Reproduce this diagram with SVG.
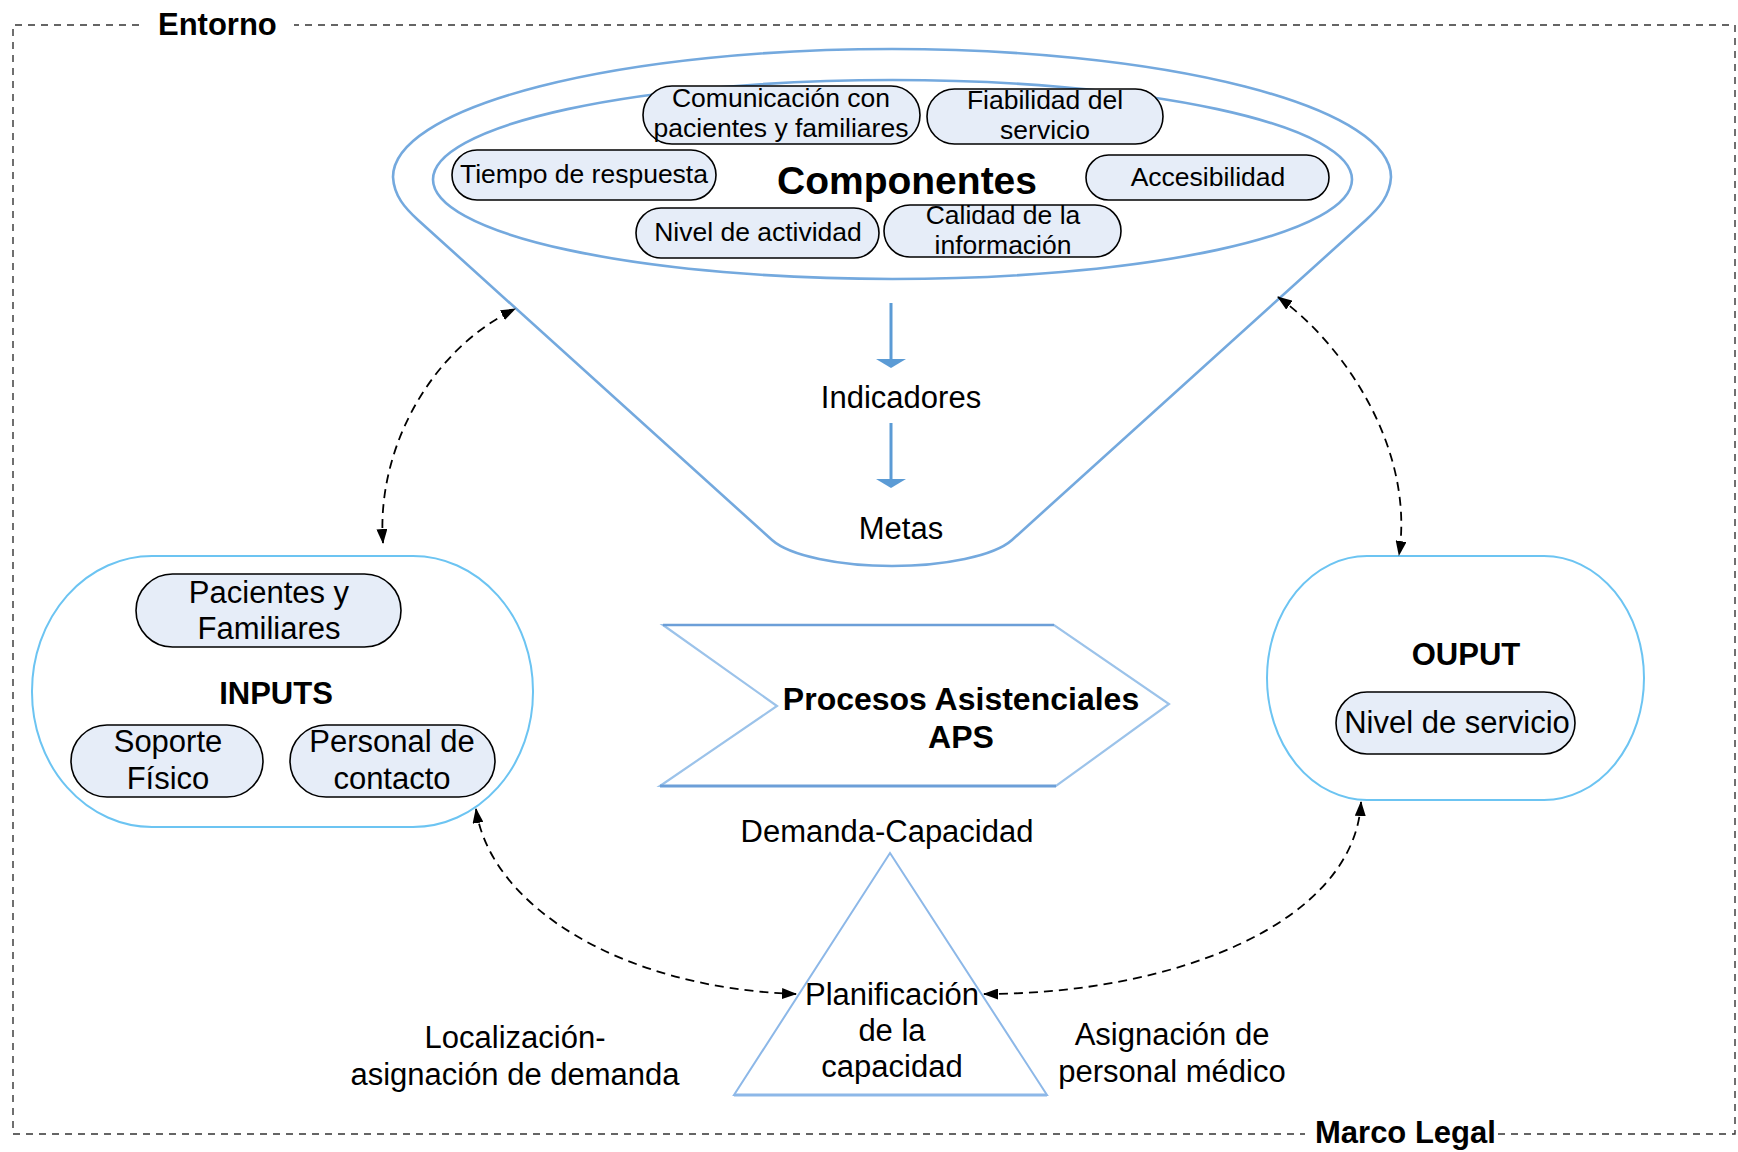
<svg xmlns="http://www.w3.org/2000/svg" width="1738" height="1152" viewBox="0 0 1738 1152">
<defs>
<style>
text{font-family:"Liberation Sans",Arial,sans-serif;fill:#000}
.t26{font-size:26.5px}
.t30{font-size:31px}
.b30{font-size:31px;font-weight:bold}
.mid{text-anchor:middle}
.pill{fill:#E6EDF8;stroke:#000;stroke-width:1.6}
.frame{fill:none;stroke:#333;stroke-width:1.4;stroke-dasharray:7 6}
.funnel{fill:#fff;stroke:#74A9DE;stroke-width:2.6}
.group{fill:#fff;stroke:#6CC4F2;stroke-width:2}
.conn{fill:none;stroke:#000;stroke-width:1.8;stroke-dasharray:9 6}
.blue{stroke:#5B9BD5;stroke-width:3;fill:none}
</style>
<marker id="ah" viewBox="0 0 15 11" markerWidth="15" markerHeight="11" refX="14" refY="5.5" orient="auto-start-reverse" markerUnits="userSpaceOnUse">
<path d="M0,0 L15,5.5 L0,11 Z" fill="#000"/>
</marker>
</defs>
<rect width="1738" height="1152" fill="#fff"/>

<g id="entorno">
<path class="frame" d="M139,25 L13,25 L13,1134 L1305,1134 M1498,1134 L1735,1134 L1735,25 L294,25"/>
<text class="b30" x="158" y="35">Entorno</text>
<text class="b30" x="1315" y="1143">Marco Legal</text>
</g>

<g id="funnel">
<path class="funnel" d="M393,177 A499 128 0 0 1 1391,177 C1390,196 1379,208 1366,220 L1012,540 C994,556 944,566 892,566 C840,566 790,556 772,540 L418,220 C405,208 394,196 393,177 Z"/>
<ellipse cx="892.5" cy="179.5" rx="459.5" ry="99.5" fill="none" stroke="#74A9DE" stroke-width="2.6"/>
<text x="907" y="194" font-size="39" font-weight="bold" class="mid">Componentes</text>
</g>

<g id="comunicacion">
<rect class="pill" x="643" y="86" width="277" height="58" rx="29"/>
<text class="t26 mid" x="781" y="107">Comunicación con</text>
<text class="t26 mid" x="781" y="137">pacientes y familiares</text>
</g>
<g id="fiabilidad">
<rect class="pill" x="927" y="89" width="236" height="55" rx="27.5"/>
<text class="t26 mid" x="1045" y="109">Fiabilidad del</text>
<text class="t26 mid" x="1045" y="139">servicio</text>
</g>
<g id="tiempo">
<rect class="pill" x="452" y="150" width="264" height="50" rx="25"/>
<text class="t26 mid" x="584" y="183">Tiempo de respuesta</text>
</g>
<g id="accesibilidad">
<rect class="pill" x="1086" y="155" width="243" height="45" rx="22.5"/>
<text class="t26 mid" x="1208" y="186">Accesibilidad</text>
</g>
<g id="nivel-actividad">
<rect class="pill" x="636" y="208" width="243" height="50" rx="25"/>
<text class="t26 mid" x="758" y="241">Nivel de actividad</text>
</g>
<g id="calidad">
<rect class="pill" x="884" y="205" width="237" height="52" rx="26"/>
<text class="t26 mid" x="1003" y="224">Calidad de la</text>
<text class="t26 mid" x="1003" y="254">información</text>
</g>

<g id="indicadores">
<line class="blue" x1="891" y1="303" x2="891" y2="361"/>
<polygon points="876,359 906,359 891,368" fill="#5B9BD5"/>
<text class="t30 mid" x="901" y="408">Indicadores</text>
</g>
<g id="metas">
<line class="blue" x1="891" y1="423" x2="891" y2="481"/>
<polygon points="876,479 906,479 891,488" fill="#5B9BD5"/>
<text class="t30 mid" x="901" y="539">Metas</text>
</g>

<g id="inputs">
<rect class="group" x="32" y="556" width="501" height="271" rx="120" ry="135"/>
<rect class="pill" x="136" y="574" width="265" height="73" rx="36.5"/>
<text class="t30 mid" x="269" y="603">Pacientes y</text>
<text class="t30 mid" x="269" y="639">Familiares</text>
<text class="b30 mid" x="276" y="704">INPUTS</text>
<rect class="pill" x="71" y="725" width="192" height="72" rx="36"/>
<text class="t30 mid" x="168" y="752">Soporte</text>
<text class="t30 mid" x="168" y="789">Físico</text>
<rect class="pill" x="290" y="725" width="205" height="72" rx="36"/>
<text class="t30 mid" x="392" y="752">Personal de</text>
<text class="t30 mid" x="392" y="789">contacto</text>
</g>

<g id="output">
<rect class="group" x="1267" y="556" width="377" height="244" rx="100" ry="122"/>
<text class="b30 mid" x="1466" y="665">OUPUT</text>
<rect class="pill" x="1336" y="692" width="239" height="62" rx="31"/>
<text class="t30 mid" x="1457" y="733">Nivel de servicio</text>
</g>

<g id="procesos">
<polygon points="663,625 1054,625 1169,704 1056,786 660,786 777,706" fill="#fff" stroke="#9CC3EA" stroke-width="2.2"/>
<line x1="663" y1="625" x2="1054" y2="625" stroke="#6C9FD8" stroke-width="2.5"/>
<line x1="660" y1="786" x2="1056" y2="786" stroke="#6C9FD8" stroke-width="3"/>
<text font-size="32" font-weight="bold" class="mid" x="961" y="710">Procesos Asistenciales</text>
<text font-size="32" font-weight="bold" class="mid" x="961" y="748">APS</text>
</g>

<g id="planificacion">
<text class="t30 mid" x="887" y="842">Demanda-Capacidad</text>
<polygon points="890,853 1047,1095 734,1095" fill="#fff" stroke="#8DB8E8" stroke-width="2"/>
<line x1="734" y1="1095" x2="1047" y2="1095" stroke="#8DB8E8" stroke-width="3"/>
<text class="t30 mid" x="892" y="1005">Planificación</text>
<text class="t30 mid" x="892" y="1041">de la</text>
<text class="t30 mid" x="892" y="1077">capacidad</text>
</g>

<g id="labels">
<text class="t30 mid" x="515" y="1048">Localización-</text>
<text class="t30 mid" x="515" y="1085">asignación de demanda</text>
<text class="t30 mid" x="1172" y="1045">Asignación de</text>
<text class="t30 mid" x="1172" y="1082">personal médico</text>
</g>

<g id="connectors">
<path class="conn" d="M383,543 C376,450 430,350 515,309" marker-start="url(#ah)" marker-end="url(#ah)"/>
<path class="conn" d="M1278,297 C1345,345 1415,450 1399,555" marker-start="url(#ah)" marker-end="url(#ah)"/>
<path class="conn" d="M476,809 C490,905 620,988 796,994" marker-start="url(#ah)" marker-end="url(#ah)"/>
<path class="conn" d="M1361,802 C1355,920 1180,994 984,994" marker-start="url(#ah)" marker-end="url(#ah)"/>
</g>
</svg>
